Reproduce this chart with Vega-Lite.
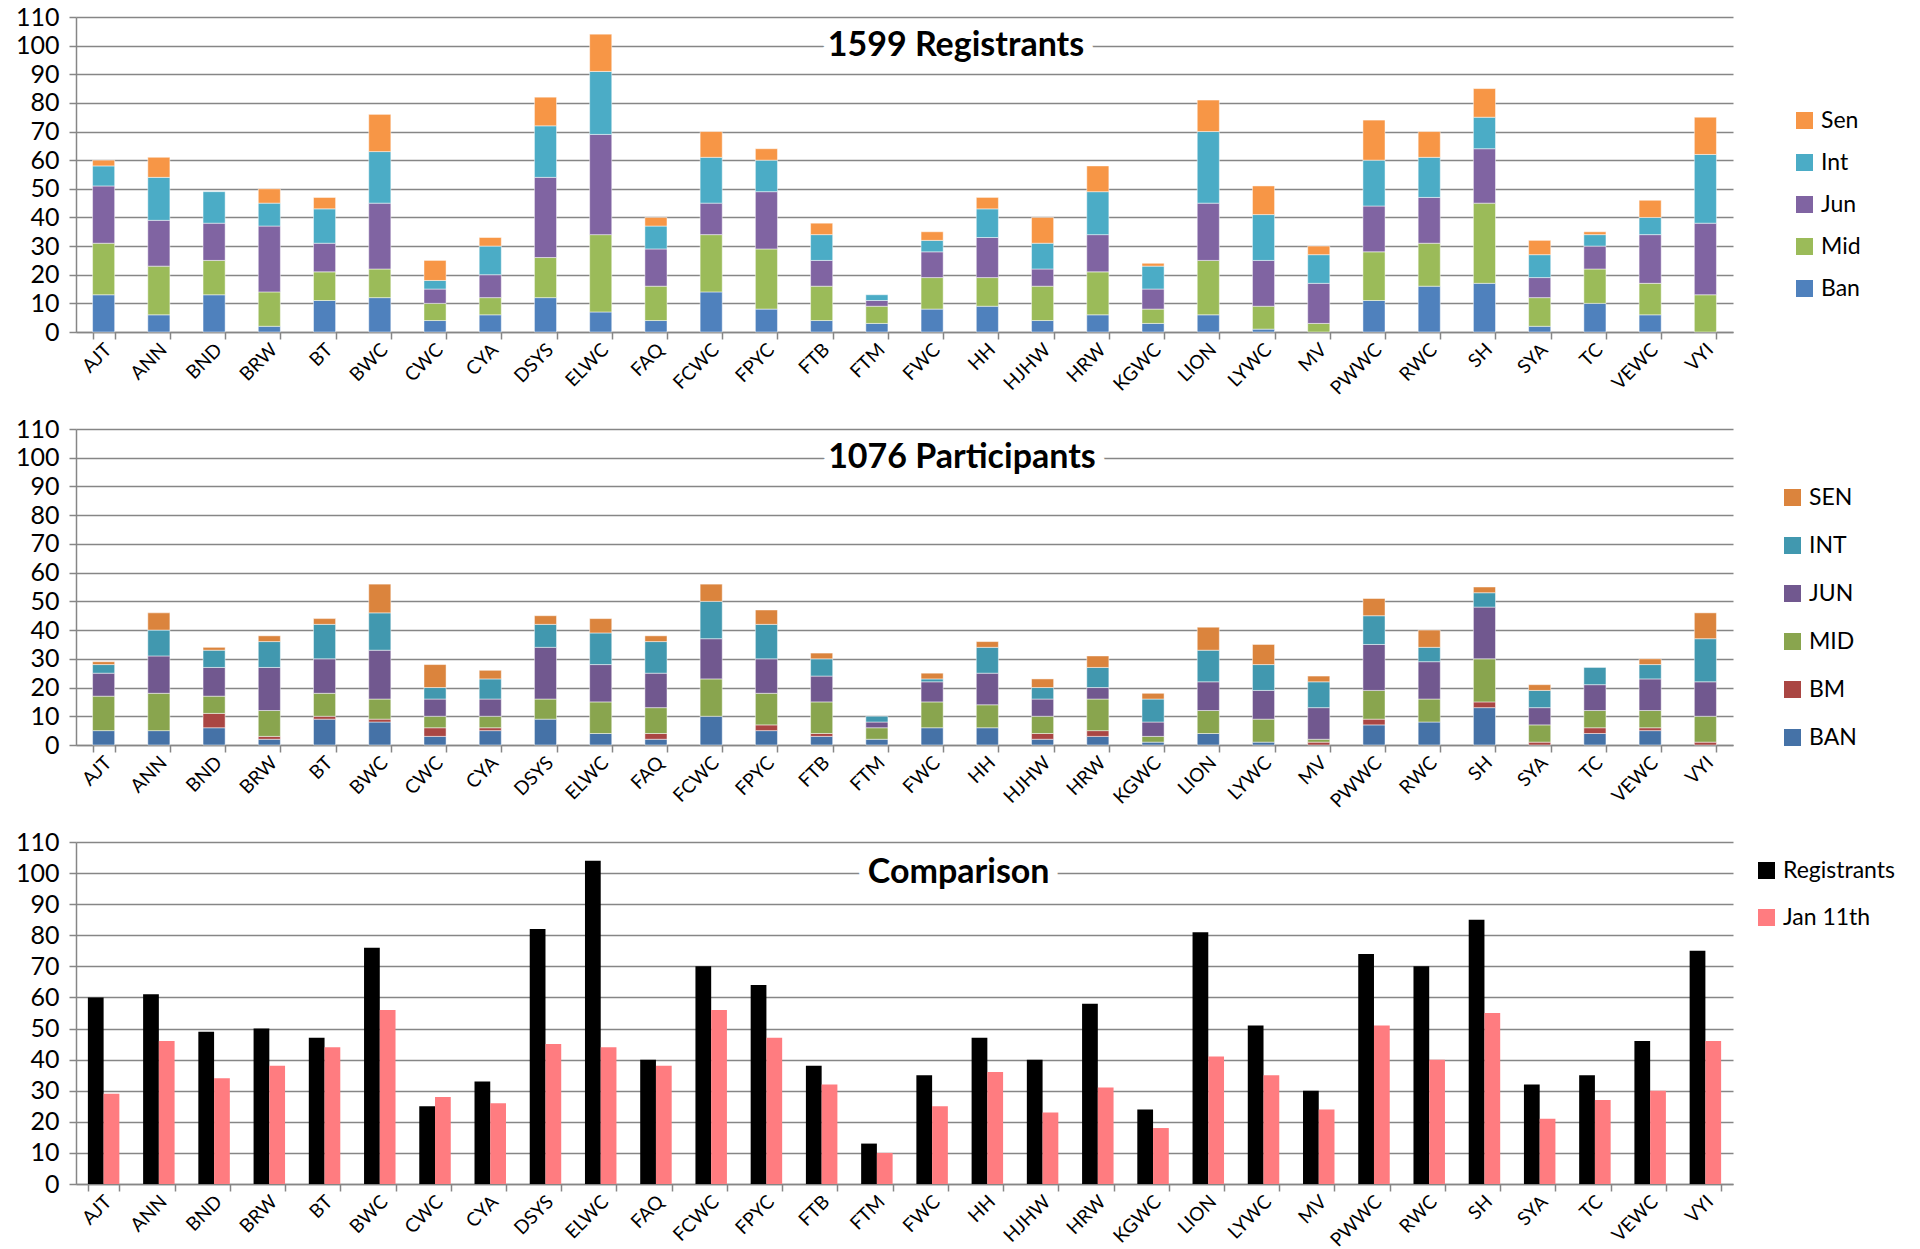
{
"$schema": "https://vega.github.io/schema/vega-lite/v6.json",
"autosize": {"type": "pad"},
"padding": {"left": 15, "top": 5, "right": 0, "bottom": 0},
"background": "white",
"bounds": "flush",
"spacing": 97,
"resolve": {"scale": {"color": "independent", "x": "independent", "y": "independent"}, "legend": {"color": "independent"}},
"config": {
  "font": "Lato",
  "view": {"stroke": null},
  "axis": {"labelColor": "#000000", "domainColor": "#868686", "domainWidth": 1.5, "tickColor": "#868686", "tickWidth": 1.5, "gridColor": "#868686", "gridWidth": 1.5, "title": null},
  "axisX": {"labelAngle": -45, "labelFontSize": 19, "tickBand": "extent", "tickSize": 7, "labelPadding": 1, "labelOffset": -2, "grid": false},
  "axisY": {"labelFontSize": 25, "tickSize": 7, "labelPadding": 10, "grid": true, "values": [0,10,20,30,40,50,60,70,80,90,100,110]},
  "legend": {"labelFontSize": 23, "labelColor": "#000000", "symbolType": "square", "symbolSize": 290, "symbolStrokeWidth": 0, "labelOffset": 5, "padding": 0, "title": null, "orient": "none"}
},
"datasets": {
  "levels": [
    {"level":"Ban","rank":1},{"level":"Mid","rank":2},{"level":"Jun","rank":3},{"level":"Int","rank":4},{"level":"Sen","rank":5},
    {"level":"BAN","rank":1},{"level":"BM","rank":2},{"level":"MID","rank":3},{"level":"JUN","rank":4},{"level":"INT","rank":5},{"level":"SEN","rank":6}
  ],
  "reg": [
    {"club":"AJT","level":"Ban","n":13},{"club":"AJT","level":"Mid","n":18},{"club":"AJT","level":"Jun","n":20},{"club":"AJT","level":"Int","n":7},{"club":"AJT","level":"Sen","n":2},
    {"club":"ANN","level":"Ban","n":6},{"club":"ANN","level":"Mid","n":17},{"club":"ANN","level":"Jun","n":16},{"club":"ANN","level":"Int","n":15},{"club":"ANN","level":"Sen","n":7},
    {"club":"BND","level":"Ban","n":13},{"club":"BND","level":"Mid","n":12},{"club":"BND","level":"Jun","n":13},{"club":"BND","level":"Int","n":11},
    {"club":"BRW","level":"Ban","n":2},{"club":"BRW","level":"Mid","n":12},{"club":"BRW","level":"Jun","n":23},{"club":"BRW","level":"Int","n":8},{"club":"BRW","level":"Sen","n":5},
    {"club":"BT","level":"Ban","n":11},{"club":"BT","level":"Mid","n":10},{"club":"BT","level":"Jun","n":10},{"club":"BT","level":"Int","n":12},{"club":"BT","level":"Sen","n":4},
    {"club":"BWC","level":"Ban","n":12},{"club":"BWC","level":"Mid","n":10},{"club":"BWC","level":"Jun","n":23},{"club":"BWC","level":"Int","n":18},{"club":"BWC","level":"Sen","n":13},
    {"club":"CWC","level":"Ban","n":4},{"club":"CWC","level":"Mid","n":6},{"club":"CWC","level":"Jun","n":5},{"club":"CWC","level":"Int","n":3},{"club":"CWC","level":"Sen","n":7},
    {"club":"CYA","level":"Ban","n":6},{"club":"CYA","level":"Mid","n":6},{"club":"CYA","level":"Jun","n":8},{"club":"CYA","level":"Int","n":10},{"club":"CYA","level":"Sen","n":3},
    {"club":"DSYS","level":"Ban","n":12},{"club":"DSYS","level":"Mid","n":14},{"club":"DSYS","level":"Jun","n":28},{"club":"DSYS","level":"Int","n":18},{"club":"DSYS","level":"Sen","n":10},
    {"club":"ELWC","level":"Ban","n":7},{"club":"ELWC","level":"Mid","n":27},{"club":"ELWC","level":"Jun","n":35},{"club":"ELWC","level":"Int","n":22},{"club":"ELWC","level":"Sen","n":13},
    {"club":"FAQ","level":"Ban","n":4},{"club":"FAQ","level":"Mid","n":12},{"club":"FAQ","level":"Jun","n":13},{"club":"FAQ","level":"Int","n":8},{"club":"FAQ","level":"Sen","n":3},
    {"club":"FCWC","level":"Ban","n":14},{"club":"FCWC","level":"Mid","n":20},{"club":"FCWC","level":"Jun","n":11},{"club":"FCWC","level":"Int","n":16},{"club":"FCWC","level":"Sen","n":9},
    {"club":"FPYC","level":"Ban","n":8},{"club":"FPYC","level":"Mid","n":21},{"club":"FPYC","level":"Jun","n":20},{"club":"FPYC","level":"Int","n":11},{"club":"FPYC","level":"Sen","n":4},
    {"club":"FTB","level":"Ban","n":4},{"club":"FTB","level":"Mid","n":12},{"club":"FTB","level":"Jun","n":9},{"club":"FTB","level":"Int","n":9},{"club":"FTB","level":"Sen","n":4},
    {"club":"FTM","level":"Ban","n":3},{"club":"FTM","level":"Mid","n":6},{"club":"FTM","level":"Jun","n":2},{"club":"FTM","level":"Int","n":2},
    {"club":"FWC","level":"Ban","n":8},{"club":"FWC","level":"Mid","n":11},{"club":"FWC","level":"Jun","n":9},{"club":"FWC","level":"Int","n":4},{"club":"FWC","level":"Sen","n":3},
    {"club":"HH","level":"Ban","n":9},{"club":"HH","level":"Mid","n":10},{"club":"HH","level":"Jun","n":14},{"club":"HH","level":"Int","n":10},{"club":"HH","level":"Sen","n":4},
    {"club":"HJHW","level":"Ban","n":4},{"club":"HJHW","level":"Mid","n":12},{"club":"HJHW","level":"Jun","n":6},{"club":"HJHW","level":"Int","n":9},{"club":"HJHW","level":"Sen","n":9},
    {"club":"HRW","level":"Ban","n":6},{"club":"HRW","level":"Mid","n":15},{"club":"HRW","level":"Jun","n":13},{"club":"HRW","level":"Int","n":15},{"club":"HRW","level":"Sen","n":9},
    {"club":"KGWC","level":"Ban","n":3},{"club":"KGWC","level":"Mid","n":5},{"club":"KGWC","level":"Jun","n":7},{"club":"KGWC","level":"Int","n":8},{"club":"KGWC","level":"Sen","n":1},
    {"club":"LION","level":"Ban","n":6},{"club":"LION","level":"Mid","n":19},{"club":"LION","level":"Jun","n":20},{"club":"LION","level":"Int","n":25},{"club":"LION","level":"Sen","n":11},
    {"club":"LYWC","level":"Ban","n":1},{"club":"LYWC","level":"Mid","n":8},{"club":"LYWC","level":"Jun","n":16},{"club":"LYWC","level":"Int","n":16},{"club":"LYWC","level":"Sen","n":10},
    {"club":"MV","level":"Mid","n":3},{"club":"MV","level":"Jun","n":14},{"club":"MV","level":"Int","n":10},{"club":"MV","level":"Sen","n":3},
    {"club":"PWWC","level":"Ban","n":11},{"club":"PWWC","level":"Mid","n":17},{"club":"PWWC","level":"Jun","n":16},{"club":"PWWC","level":"Int","n":16},{"club":"PWWC","level":"Sen","n":14},
    {"club":"RWC","level":"Ban","n":16},{"club":"RWC","level":"Mid","n":15},{"club":"RWC","level":"Jun","n":16},{"club":"RWC","level":"Int","n":14},{"club":"RWC","level":"Sen","n":9},
    {"club":"SH","level":"Ban","n":17},{"club":"SH","level":"Mid","n":28},{"club":"SH","level":"Jun","n":19},{"club":"SH","level":"Int","n":11},{"club":"SH","level":"Sen","n":10},
    {"club":"SYA","level":"Ban","n":2},{"club":"SYA","level":"Mid","n":10},{"club":"SYA","level":"Jun","n":7},{"club":"SYA","level":"Int","n":8},{"club":"SYA","level":"Sen","n":5},
    {"club":"TC","level":"Ban","n":10},{"club":"TC","level":"Mid","n":12},{"club":"TC","level":"Jun","n":8},{"club":"TC","level":"Int","n":4},{"club":"TC","level":"Sen","n":1},
    {"club":"VEWC","level":"Ban","n":6},{"club":"VEWC","level":"Mid","n":11},{"club":"VEWC","level":"Jun","n":17},{"club":"VEWC","level":"Int","n":6},{"club":"VEWC","level":"Sen","n":6},
    {"club":"VYI","level":"Mid","n":13},{"club":"VYI","level":"Jun","n":25},{"club":"VYI","level":"Int","n":24},{"club":"VYI","level":"Sen","n":13}
  ],
  "part": [
    {"club":"AJT","level":"BAN","n":5},{"club":"AJT","level":"MID","n":12},{"club":"AJT","level":"JUN","n":8},{"club":"AJT","level":"INT","n":3},{"club":"AJT","level":"SEN","n":1},
    {"club":"ANN","level":"BAN","n":5},{"club":"ANN","level":"MID","n":13},{"club":"ANN","level":"JUN","n":13},{"club":"ANN","level":"INT","n":9},{"club":"ANN","level":"SEN","n":6},
    {"club":"BND","level":"BAN","n":6},{"club":"BND","level":"BM","n":5},{"club":"BND","level":"MID","n":6},{"club":"BND","level":"JUN","n":10},{"club":"BND","level":"INT","n":6},{"club":"BND","level":"SEN","n":1},
    {"club":"BRW","level":"BAN","n":2},{"club":"BRW","level":"BM","n":1},{"club":"BRW","level":"MID","n":9},{"club":"BRW","level":"JUN","n":15},{"club":"BRW","level":"INT","n":9},{"club":"BRW","level":"SEN","n":2},
    {"club":"BT","level":"BAN","n":9},{"club":"BT","level":"BM","n":1},{"club":"BT","level":"MID","n":8},{"club":"BT","level":"JUN","n":12},{"club":"BT","level":"INT","n":12},{"club":"BT","level":"SEN","n":2},
    {"club":"BWC","level":"BAN","n":8},{"club":"BWC","level":"BM","n":1},{"club":"BWC","level":"MID","n":7},{"club":"BWC","level":"JUN","n":17},{"club":"BWC","level":"INT","n":13},{"club":"BWC","level":"SEN","n":10},
    {"club":"CWC","level":"BAN","n":3},{"club":"CWC","level":"BM","n":3},{"club":"CWC","level":"MID","n":4},{"club":"CWC","level":"JUN","n":6},{"club":"CWC","level":"INT","n":4},{"club":"CWC","level":"SEN","n":8},
    {"club":"CYA","level":"BAN","n":5},{"club":"CYA","level":"BM","n":1},{"club":"CYA","level":"MID","n":4},{"club":"CYA","level":"JUN","n":6},{"club":"CYA","level":"INT","n":7},{"club":"CYA","level":"SEN","n":3},
    {"club":"DSYS","level":"BAN","n":9},{"club":"DSYS","level":"MID","n":7},{"club":"DSYS","level":"JUN","n":18},{"club":"DSYS","level":"INT","n":8},{"club":"DSYS","level":"SEN","n":3},
    {"club":"ELWC","level":"BAN","n":4},{"club":"ELWC","level":"MID","n":11},{"club":"ELWC","level":"JUN","n":13},{"club":"ELWC","level":"INT","n":11},{"club":"ELWC","level":"SEN","n":5},
    {"club":"FAQ","level":"BAN","n":2},{"club":"FAQ","level":"BM","n":2},{"club":"FAQ","level":"MID","n":9},{"club":"FAQ","level":"JUN","n":12},{"club":"FAQ","level":"INT","n":11},{"club":"FAQ","level":"SEN","n":2},
    {"club":"FCWC","level":"BAN","n":10},{"club":"FCWC","level":"MID","n":13},{"club":"FCWC","level":"JUN","n":14},{"club":"FCWC","level":"INT","n":13},{"club":"FCWC","level":"SEN","n":6},
    {"club":"FPYC","level":"BAN","n":5},{"club":"FPYC","level":"BM","n":2},{"club":"FPYC","level":"MID","n":11},{"club":"FPYC","level":"JUN","n":12},{"club":"FPYC","level":"INT","n":12},{"club":"FPYC","level":"SEN","n":5},
    {"club":"FTB","level":"BAN","n":3},{"club":"FTB","level":"BM","n":1},{"club":"FTB","level":"MID","n":11},{"club":"FTB","level":"JUN","n":9},{"club":"FTB","level":"INT","n":6},{"club":"FTB","level":"SEN","n":2},
    {"club":"FTM","level":"BAN","n":2},{"club":"FTM","level":"MID","n":4},{"club":"FTM","level":"JUN","n":2},{"club":"FTM","level":"INT","n":2},
    {"club":"FWC","level":"BAN","n":6},{"club":"FWC","level":"MID","n":9},{"club":"FWC","level":"JUN","n":7},{"club":"FWC","level":"INT","n":1},{"club":"FWC","level":"SEN","n":2},
    {"club":"HH","level":"BAN","n":6},{"club":"HH","level":"MID","n":8},{"club":"HH","level":"JUN","n":11},{"club":"HH","level":"INT","n":9},{"club":"HH","level":"SEN","n":2},
    {"club":"HJHW","level":"BAN","n":2},{"club":"HJHW","level":"BM","n":2},{"club":"HJHW","level":"MID","n":6},{"club":"HJHW","level":"JUN","n":6},{"club":"HJHW","level":"INT","n":4},{"club":"HJHW","level":"SEN","n":3},
    {"club":"HRW","level":"BAN","n":3},{"club":"HRW","level":"BM","n":2},{"club":"HRW","level":"MID","n":11},{"club":"HRW","level":"JUN","n":4},{"club":"HRW","level":"INT","n":7},{"club":"HRW","level":"SEN","n":4},
    {"club":"KGWC","level":"BAN","n":1},{"club":"KGWC","level":"MID","n":2},{"club":"KGWC","level":"JUN","n":5},{"club":"KGWC","level":"INT","n":8},{"club":"KGWC","level":"SEN","n":2},
    {"club":"LION","level":"BAN","n":4},{"club":"LION","level":"MID","n":8},{"club":"LION","level":"JUN","n":10},{"club":"LION","level":"INT","n":11},{"club":"LION","level":"SEN","n":8},
    {"club":"LYWC","level":"BAN","n":1},{"club":"LYWC","level":"MID","n":8},{"club":"LYWC","level":"JUN","n":10},{"club":"LYWC","level":"INT","n":9},{"club":"LYWC","level":"SEN","n":7},
    {"club":"MV","level":"BM","n":1},{"club":"MV","level":"MID","n":1},{"club":"MV","level":"JUN","n":11},{"club":"MV","level":"INT","n":9},{"club":"MV","level":"SEN","n":2},
    {"club":"PWWC","level":"BAN","n":7},{"club":"PWWC","level":"BM","n":2},{"club":"PWWC","level":"MID","n":10},{"club":"PWWC","level":"JUN","n":16},{"club":"PWWC","level":"INT","n":10},{"club":"PWWC","level":"SEN","n":6},
    {"club":"RWC","level":"BAN","n":8},{"club":"RWC","level":"MID","n":8},{"club":"RWC","level":"JUN","n":13},{"club":"RWC","level":"INT","n":5},{"club":"RWC","level":"SEN","n":6},
    {"club":"SH","level":"BAN","n":13},{"club":"SH","level":"BM","n":2},{"club":"SH","level":"MID","n":15},{"club":"SH","level":"JUN","n":18},{"club":"SH","level":"INT","n":5},{"club":"SH","level":"SEN","n":2},
    {"club":"SYA","level":"BM","n":1},{"club":"SYA","level":"MID","n":6},{"club":"SYA","level":"JUN","n":6},{"club":"SYA","level":"INT","n":6},{"club":"SYA","level":"SEN","n":2},
    {"club":"TC","level":"BAN","n":4},{"club":"TC","level":"BM","n":2},{"club":"TC","level":"MID","n":6},{"club":"TC","level":"JUN","n":9},{"club":"TC","level":"INT","n":6},
    {"club":"VEWC","level":"BAN","n":5},{"club":"VEWC","level":"BM","n":1},{"club":"VEWC","level":"MID","n":6},{"club":"VEWC","level":"JUN","n":11},{"club":"VEWC","level":"INT","n":5},{"club":"VEWC","level":"SEN","n":2},
    {"club":"VYI","level":"BM","n":1},{"club":"VYI","level":"MID","n":9},{"club":"VYI","level":"JUN","n":12},{"club":"VYI","level":"INT","n":15},{"club":"VYI","level":"SEN","n":9}
  ],
  "comp": [
    {"club":"AJT","series":"Registrants","n":60},{"club":"AJT","series":"Jan 11th","n":29},
    {"club":"ANN","series":"Registrants","n":61},{"club":"ANN","series":"Jan 11th","n":46},
    {"club":"BND","series":"Registrants","n":49},{"club":"BND","series":"Jan 11th","n":34},
    {"club":"BRW","series":"Registrants","n":50},{"club":"BRW","series":"Jan 11th","n":38},
    {"club":"BT","series":"Registrants","n":47},{"club":"BT","series":"Jan 11th","n":44},
    {"club":"BWC","series":"Registrants","n":76},{"club":"BWC","series":"Jan 11th","n":56},
    {"club":"CWC","series":"Registrants","n":25},{"club":"CWC","series":"Jan 11th","n":28},
    {"club":"CYA","series":"Registrants","n":33},{"club":"CYA","series":"Jan 11th","n":26},
    {"club":"DSYS","series":"Registrants","n":82},{"club":"DSYS","series":"Jan 11th","n":45},
    {"club":"ELWC","series":"Registrants","n":104},{"club":"ELWC","series":"Jan 11th","n":44},
    {"club":"FAQ","series":"Registrants","n":40},{"club":"FAQ","series":"Jan 11th","n":38},
    {"club":"FCWC","series":"Registrants","n":70},{"club":"FCWC","series":"Jan 11th","n":56},
    {"club":"FPYC","series":"Registrants","n":64},{"club":"FPYC","series":"Jan 11th","n":47},
    {"club":"FTB","series":"Registrants","n":38},{"club":"FTB","series":"Jan 11th","n":32},
    {"club":"FTM","series":"Registrants","n":13},{"club":"FTM","series":"Jan 11th","n":10},
    {"club":"FWC","series":"Registrants","n":35},{"club":"FWC","series":"Jan 11th","n":25},
    {"club":"HH","series":"Registrants","n":47},{"club":"HH","series":"Jan 11th","n":36},
    {"club":"HJHW","series":"Registrants","n":40},{"club":"HJHW","series":"Jan 11th","n":23},
    {"club":"HRW","series":"Registrants","n":58},{"club":"HRW","series":"Jan 11th","n":31},
    {"club":"KGWC","series":"Registrants","n":24},{"club":"KGWC","series":"Jan 11th","n":18},
    {"club":"LION","series":"Registrants","n":81},{"club":"LION","series":"Jan 11th","n":41},
    {"club":"LYWC","series":"Registrants","n":51},{"club":"LYWC","series":"Jan 11th","n":35},
    {"club":"MV","series":"Registrants","n":30},{"club":"MV","series":"Jan 11th","n":24},
    {"club":"PWWC","series":"Registrants","n":74},{"club":"PWWC","series":"Jan 11th","n":51},
    {"club":"RWC","series":"Registrants","n":70},{"club":"RWC","series":"Jan 11th","n":40},
    {"club":"SH","series":"Registrants","n":85},{"club":"SH","series":"Jan 11th","n":55},
    {"club":"SYA","series":"Registrants","n":32},{"club":"SYA","series":"Jan 11th","n":21},
    {"club":"TC","series":"Registrants","n":35},{"club":"TC","series":"Jan 11th","n":27},
    {"club":"VEWC","series":"Registrants","n":46},{"club":"VEWC","series":"Jan 11th","n":30},
    {"club":"VYI","series":"Registrants","n":75},{"club":"VYI","series":"Jan 11th","n":46}
  ]
},
"vconcat": [
  {
    "width": 1657, "height": 315,
    "layer": [
      {
        "data": {"name": "reg"},
        "transform": [{"lookup": "level", "from": {"data": {"name": "levels"}, "key": "level", "fields": ["rank"]}}],
        "mark": {"type": "bar", "stroke": "white", "strokeWidth": 0.8, "strokeOpacity": 0.6},
        "encoding": {
          "x": {"field": "club", "type": "nominal", "scale": {"paddingInner": 0.6, "paddingOuter": 0.3}},
          "y": {"field": "n", "type": "quantitative", "stack": "zero", "scale": {"domain": [0, 110], "nice": false}},
          "order": {"field": "rank", "type": "quantitative", "sort": "ascending"},
          "color": {"field": "level", "type": "nominal",
            "scale": {"domain": ["Ban","Mid","Jun","Int","Sen"], "range": ["#4F81BD","#9BBB59","#8064A2","#4BACC6","#F79646"]},
            "legend": {"values": ["Sen","Int","Jun","Mid","Ban"], "legendX": 1717, "legendY": 92, "rowPadding": 18}}
        }
      },
      {
        "data": {"values": [{"label": "1599 Registrants"}]},
        "mark": {"type": "text", "fontSize": 34, "fontWeight": "bold", "stroke": "white", "strokeWidth": 20, "strokeJoin": "round", "fill": "white", "baseline": "middle", "align": "center"},
        "encoding": {"x": {"datum": "HH", "type": "nominal", "bandPosition": -0.92}, "y": {"datum": 100, "type": "quantitative"}, "text": {"field": "label"}}
      },
      {
        "data": {"values": [{"label": "1599 Registrants"}]},
        "mark": {"type": "text", "fontSize": 34, "fontWeight": "bold", "fill": "#000000", "baseline": "middle", "align": "center"},
        "encoding": {"x": {"datum": "HH", "type": "nominal", "bandPosition": -0.92}, "y": {"datum": 100, "type": "quantitative"}, "text": {"field": "label"}}
      }
    ]
  },
  {
    "width": 1657, "height": 316,
    "layer": [
      {
        "data": {"name": "part"},
        "transform": [{"lookup": "level", "from": {"data": {"name": "levels"}, "key": "level", "fields": ["rank"]}}],
        "mark": {"type": "bar", "stroke": "white", "strokeWidth": 0.8, "strokeOpacity": 0.6},
        "encoding": {
          "x": {"field": "club", "type": "nominal", "scale": {"paddingInner": 0.6, "paddingOuter": 0.3}},
          "y": {"field": "n", "type": "quantitative", "stack": "zero", "scale": {"domain": [0, 110], "nice": false}},
          "order": {"field": "rank", "type": "quantitative", "sort": "ascending"},
          "color": {"field": "level", "type": "nominal",
            "scale": {"domain": ["BAN","BM","MID","JUN","INT","SEN"], "range": ["#4572A7","#AA4643","#89A54E","#71588F","#4198AF","#DB843D"]},
            "legend": {"values": ["SEN","INT","JUN","MID","BM","BAN"], "legendX": 1705, "legendY": 57, "rowPadding": 24}}
        }
      },
      {
        "data": {"values": [{"label": "1076 Participants"}]},
        "mark": {"type": "text", "fontSize": 34, "fontWeight": "bold", "stroke": "white", "strokeWidth": 20, "strokeJoin": "round", "fill": "white", "baseline": "middle", "align": "center"},
        "encoding": {"x": {"datum": "HH", "type": "nominal", "bandPosition": -0.65}, "y": {"datum": 100, "type": "quantitative"}, "text": {"field": "label"}}
      },
      {
        "data": {"values": [{"label": "1076 Participants"}]},
        "mark": {"type": "text", "fontSize": 34, "fontWeight": "bold", "fill": "#000000", "baseline": "middle", "align": "center"},
        "encoding": {"x": {"datum": "HH", "type": "nominal", "bandPosition": -0.65}, "y": {"datum": 100, "type": "quantitative"}, "text": {"field": "label"}}
      }
    ]
  },
  {
    "width": 1657, "height": 342,
    "layer": [
      {
        "data": {"name": "comp"},
        "mark": {"type": "bar"},
        "encoding": {
          "x": {"field": "club", "type": "nominal", "scale": {"paddingInner": 0.43, "paddingOuter": 0.215}},
          "xOffset": {"field": "series", "type": "nominal", "sort": ["Registrants","Jan 11th"], "scale": {"paddingInner": 0, "paddingOuter": 0}},
          "y": {"field": "n", "type": "quantitative", "scale": {"domain": [0, 110], "nice": false}},
          "color": {"field": "series", "type": "nominal", "sort": ["Registrants","Jan 11th"],
            "scale": {"domain": ["Registrants","Jan 11th"], "range": ["#000000","#FF7C80"]},
            "legend": {"values": ["Registrants","Jan 11th"], "legendX": 1679, "legendY": 17, "rowPadding": 23}}
        }
      },
      {
        "data": {"values": [{"label": "Comparison"}]},
        "mark": {"type": "text", "fontSize": 34, "fontWeight": "bold", "stroke": "white", "strokeWidth": 20, "strokeJoin": "round", "fill": "white", "baseline": "middle", "align": "center"},
        "encoding": {"x": {"datum": "HH", "type": "nominal", "bandPosition": -0.41}, "y": {"datum": 100, "type": "quantitative"}, "text": {"field": "label"}}
      },
      {
        "data": {"values": [{"label": "Comparison"}]},
        "mark": {"type": "text", "fontSize": 34, "fontWeight": "bold", "fill": "#000000", "baseline": "middle", "align": "center"},
        "encoding": {"x": {"datum": "HH", "type": "nominal", "bandPosition": -0.41}, "y": {"datum": 100, "type": "quantitative"}, "text": {"field": "label"}}
      }
    ]
  }
]
}
